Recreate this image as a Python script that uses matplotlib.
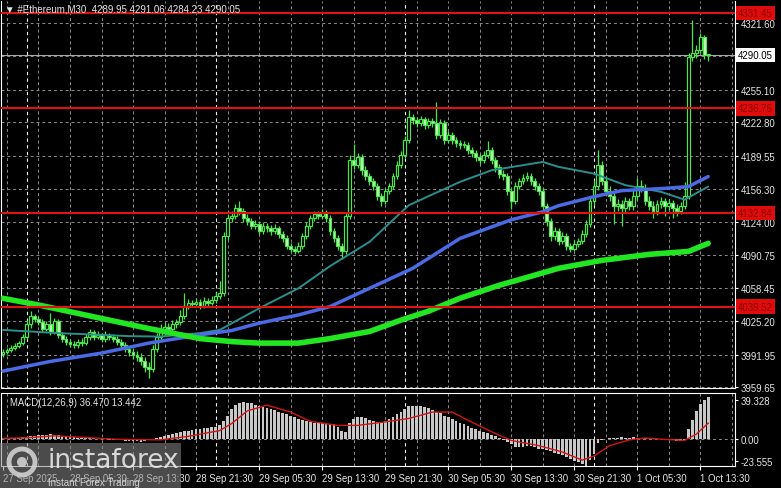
import matplotlib
matplotlib.use('Agg')
import matplotlib.pyplot as plt
import matplotlib.transforms as mtransforms
from matplotlib.patches import Rectangle, Circle
import numpy as np

plt.rcParams['font.family'] = ['Liberation Sans', 'DejaVu Sans']

# ---------------- data ----------------
opens = [3993, 3995, 3997, 3999, 4001, 4004, 4010, 4022, 4030, 4027,
         4024, 4018, 4022, 4015, 4025, 4012, 4008, 4005, 4003, 4002,
         4005, 4004, 4010, 4015, 4010, 4012, 4008, 4012, 4010, 4008,
         4005, 4002, 3998, 3995, 3992, 3990, 3986, 3980, 3978, 3998,
         4010, 4018, 4020, 4018, 4022, 4024, 4030, 4040, 4043, 4042,
         4044, 4040, 4045, 4043, 4046, 4050, 4053, 4110, 4128, 4130,
         4138, 4135, 4128, 4125, 4120, 4122, 4115, 4120, 4118, 4115,
         4118, 4112, 4108, 4100, 4097, 4095, 4100, 4110, 4120, 4128,
         4132, 4130, 4134, 4128, 4115, 4108, 4100, 4095, 4130, 4185,
         4180, 4188, 4175, 4170, 4165, 4160, 4150, 4145, 4155, 4160,
         4170, 4180, 4190, 4205, 4228, 4225, 4222, 4226, 4220, 4224,
         4222, 4210, 4222, 4205, 4210, 4205, 4202, 4200, 4200, 4195,
         4192, 4188, 4185, 4190, 4195, 4185, 4178, 4172, 4170, 4155,
         4145, 4160, 4165, 4168, 4170, 4165, 4160, 4155, 4140, 4125,
         4110, 4115, 4105, 4110, 4100, 4097, 4102, 4105, 4112, 4122,
         4145, 4160, 4180, 4165, 4155, 4150, 4140, 4142, 4138, 4145,
         4140, 4150, 4160, 4158, 4145, 4140, 4135, 4142, 4145, 4140,
         4143, 4138, 4135, 4140, 4150, 4288, 4292, 4295, 4308, 4289.95]
highs = [3998, 3999, 4002, 4004, 4006, 4013, 4026, 4035, 4032, 4030,
         4027, 4025, 4033, 4028, 4027, 4015, 4011, 4008, 4006, 4008,
         4009, 4013, 4018, 4017, 4016, 4014, 4016, 4014, 4013, 4011,
         4008, 4005, 4001, 3999, 3996, 3994, 3990, 3985, 4002, 4014,
         4022, 4024, 4023, 4026, 4027, 4036, 4053, 4047, 4046, 4048,
         4047, 4049, 4048, 4050, 4054, 4065, 4114, 4132, 4135, 4142,
         4145, 4138, 4132, 4128, 4126, 4125, 4124, 4123, 4121, 4122,
         4120, 4115, 4111, 4103, 4100, 4104, 4113, 4124, 4131, 4135,
         4135, 4137, 4136, 4131, 4118, 4111, 4103, 4133, 4190, 4201,
         4192, 4191, 4179, 4173, 4168, 4163, 4153, 4158, 4163, 4173,
         4184, 4194, 4209, 4235, 4231, 4228, 4229, 4228, 4227, 4227,
         4243, 4226, 4225, 4214, 4213, 4208, 4205, 4204, 4203, 4198,
         4195, 4191, 4194, 4204, 4198, 4188, 4181, 4175, 4173, 4158,
         4164, 4168, 4172, 4174, 4173, 4168, 4163, 4158, 4143, 4128,
         4119, 4118, 4114, 4113, 4103, 4106, 4108, 4116, 4126, 4150,
         4166, 4195, 4184, 4170, 4160, 4154, 4147, 4146, 4149, 4148,
         4156, 4168, 4166, 4162, 4150, 4145, 4146, 4149, 4148, 4147,
         4146, 4142, 4144, 4164, 4292, 4325, 4300, 4312, 4310, 4291.06]
lows = [3990, 3993, 3995, 3997, 3999, 4002, 4008, 4019, 4024, 4021,
        4015, 4016, 4012, 4013, 4009, 4005, 4002, 4000, 3999, 3999,
        4001, 4002, 4007, 4007, 4008, 4005, 4005, 4007, 4005, 4002,
        3999, 3995, 3991, 3988, 3986, 3982, 3975, 3969, 3975, 3995,
        4007, 4015, 4015, 4016, 4019, 4021, 4027, 4037, 4039, 4039,
        4037, 4038, 4040, 4041, 4043, 4047, 4050, 4106, 4124, 4127,
        4131, 4124, 4121, 4117, 4117, 4112, 4112, 4114, 4111, 4112,
        4108, 4104, 4097, 4094, 4092, 4093, 4097, 4107, 4117, 4125,
        4127, 4127, 4124, 4111, 4104, 4096, 4087, 4092, 4127, 4176,
        4177, 4171, 4166, 4161, 4156, 4146, 4140, 4142, 4152, 4157,
        4167, 4177, 4187, 4202, 4221, 4218, 4219, 4216, 4217, 4218,
        4206, 4207, 4201, 4202, 4201, 4198, 4196, 4197, 4191, 4188,
        4184, 4181, 4182, 4187, 4181, 4174, 4168, 4166, 4151, 4137,
        4142, 4157, 4162, 4165, 4161, 4156, 4151, 4136, 4120, 4105,
        4106, 4101, 4102, 4096, 4094, 4095, 4099, 4102, 4109, 4119,
        4141, 4156, 4161, 4150, 4145, 4122, 4135, 4120, 4134, 4136,
        4136, 4146, 4154, 4141, 4136, 4128, 4131, 4138, 4130, 4136,
        4128, 4130, 4132, 4137, 4147, 4284, 4287, 4292, 4286, 4284.23]
closes = [3995, 3997, 3999, 4001, 4004, 4010, 4022, 4030, 4027, 4024,
          4018, 4022, 4015, 4025, 4012, 4008, 4005, 4003, 4002, 4005,
          4004, 4010, 4015, 4010, 4012, 4008, 4012, 4010, 4008, 4005,
          4002, 3998, 3995, 3992, 3990, 3986, 3980, 3978, 3998, 4010,
          4018, 4020, 4018, 4022, 4024, 4030, 4040, 4043, 4042, 4044,
          4040, 4045, 4043, 4046, 4050, 4053, 4110, 4128, 4130, 4138,
          4135, 4128, 4125, 4120, 4122, 4115, 4120, 4118, 4115, 4118,
          4112, 4108, 4100, 4097, 4095, 4100, 4110, 4120, 4128, 4132,
          4130, 4134, 4128, 4115, 4108, 4100, 4095, 4130, 4185, 4180,
          4188, 4175, 4170, 4165, 4160, 4150, 4145, 4155, 4160, 4170,
          4180, 4190, 4205, 4228, 4225, 4222, 4226, 4220, 4224, 4222,
          4210, 4222, 4205, 4210, 4205, 4202, 4200, 4200, 4195, 4192,
          4188, 4185, 4190, 4195, 4185, 4178, 4172, 4170, 4155, 4145,
          4160, 4165, 4168, 4170, 4165, 4160, 4155, 4140, 4125, 4110,
          4115, 4105, 4110, 4100, 4097, 4102, 4105, 4112, 4122, 4145,
          4160, 4180, 4165, 4155, 4150, 4140, 4142, 4138, 4145, 4140,
          4150, 4160, 4158, 4145, 4140, 4135, 4142, 4145, 4140, 4143,
          4138, 4135, 4140, 4150, 4288, 4292, 4295, 4308, 4289.95, 4290.05]

# moving averages (bar index, value)
ma_slow_idx = [0, 9, 25, 37, 50, 58, 65, 75, 83, 93, 101, 108, 116, 126, 134, 141, 152, 164, 174, 179]
ma_slow_val = [4048, 4041.4, 4028, 4018, 4008, 4005, 4003.5, 4003.5, 4008, 4015, 4026.3, 4035.2,
               4048.1, 4061, 4069.9, 4077.8, 4085.7, 4091.7, 4094.6, 4102.6]
ma_mid_idx = [0, 12, 25, 37, 50, 58, 65, 75, 83, 93, 104, 116, 129, 137, 141, 150, 157, 167, 174, 179]
ma_mid_val = [3975.7, 3985.3, 3993.6, 4003.5, 4011.7, 4016, 4023.3, 4031.5, 4039.8, 4057.9, 4077.8,
              4107.5, 4126, 4134, 4140, 4149, 4155, 4157, 4159, 4169]
ma_fast_idx = [0, 7, 14, 25, 32, 40, 50, 55, 65, 75, 83, 93, 103, 116, 124, 137, 141, 150, 158, 167, 173, 179]
ma_fast_val = [4016.6, 4015, 4013.4, 4011.7, 4010.4, 4010, 4013.4, 4016.6, 4038, 4058, 4080, 4104,
               4140.5, 4163.7, 4175.2, 4183.5, 4178.6, 4171.9, 4160.4, 4153.8, 4146, 4159]

macd_hist = [0.5, 0.6, 0.8, 0.8, 1.0, 1.2, 1.5, 2.0, 2.5, 2.8,
             3.0, 3.6, 3.8, 3.5, 3.0, 2.5, 2.0, 1.5, 1.2, 1.0,
             0.8, 0.6, 0.5, 0.2, 0.0, -0.3, -0.5, -0.8, -1.0, -1.2,
             -1.5, -1.8, -2.0, -2.2, -2.4, -2.5, -2.3, -1.5, -0.5, 0.5,
             1.5, 2.5, 3.5, 4.0, 4.5, 5.5, 6.5, 7.0, 7.5, 8.0,
             8.5, 9.0, 9.5, 10.0, 10.5, 11.5, 15.0, 20.0, 26.0, 29.5,
             31.0, 31.5, 31.2, 30.5, 29.5, 28.5, 27.5, 26.5, 25.5, 24.5,
             23.5, 22.5, 21.5, 20.0, 18.5, 17.0, 16.0, 15.0, 14.5, 14.0,
             13.8, 13.5, 13.5, 13.0, 12.5, 10.0, 7.0, 6.0, 14.0, 17.0,
             19.0, 19.0, 18.0, 16.0, 15.0, 14.5, 14.0, 15.0, 17.0, 19.0,
             21.0, 23.0, 26.0, 28.0, 28.5, 28.5, 28.0, 27.5, 26.5, 25.0,
             23.0, 22.0, 20.0, 18.5, 17.0, 15.5, 14.0, 12.5, 11.0, 9.0,
             8.0, 7.0, 6.0, 5.0, 3.5, 2.5, 1.0, -1.0, -3.0, -5.0,
             -7.0, -7.5, -7.0, -6.5, -6.0, -7.0, -8.5, -9.0, -10.0, -11.0,
             -12.5, -13.5, -14.5, -16.0, -17.5, -19.0, -20.5, -21.5, -23.555, -18.0,
             -13.0, -4.0, -1.0, 0.0, 0.5, 0.8, 1.0, 1.2, 1.0, 1.0,
             1.2, 1.0, 0.8, 0.5, 0.3, 0.0, -0.3, -0.5, -0.8, -1.0,
             -1.5, -2.0, -2.2, -1.5, 8.0, 16.0, 24.0, 30.0, 33.5, 36.47]
signal_idx = [0, 6, 13, 29, 40, 47, 55, 58, 62, 67, 73, 78, 85, 90, 97, 103, 109, 114, 118, 124,
              129, 136, 142, 147, 150, 154, 159, 163, 168, 173, 176, 179]
signal_val = [0.3, 0.8, 2.5, -0.5, -1.0, 2.0, 7.0, 13.0, 24.0, 29.0, 23.0, 15.0, 11.5, 11.5, 14.5,
              17.5, 23.0, 23.0, 16.0, 6.0, -1.5, -6.0, -11.5, -18.5, -15.0, -6.0, -1.0, 0.6, -0.6,
              -1.5, 4.0, 13.442]

levels = [4331.45, 4236.76, 4132.84, 4039.52]
level_labels = ['4331.45', '4236.76', '4132.84', '4039.52']
current_price = 4290.05

price_ticks = [4321.60, 4288.35, 4255.10, 4222.80, 4189.55, 4156.30, 4124.00, 4090.75,
               4058.45, 4025.20, 3991.95, 3959.65]
price_tick_labels = ['4321.60', '', '4255.10', '4222.80', '4189.55', '4156.30', '4124.00',
                     '4090.75', '4058.45', '4025.20', '3991.95', '3959.65']
time_tick_idx = [0, 17, 33, 49, 65, 81, 97, 113, 129, 145, 161, 177]
time_tick_labels = ['27 Sep 2025', '28 Sep 05:30', '28 Sep 13:30', '28 Sep 21:30', '29 Sep 05:30',
                    '29 Sep 13:30', '29 Sep 21:30', '30 Sep 05:30', '30 Sep 13:30', '30 Sep 21:30',
                    '1 Oct 05:30', '1 Oct 13:30']
grid_idx = list(range(1, 186, 8))
day_sep_idx = [6, 54, 102, 150]
macd_ticks = [33.6, 0.0, -19.1]
macd_tick_labels = ['39.328', '0.00', '-23.555']

# ---------------- styling ----------------
W, H = 781, 489
BG = 'black'
TXT = '#e6e6e6'
CANDLE = '#46ea46'
BEAR_FILL = '#c8f5c2'
GRID = '#8c8c8c'

fig = plt.figure(figsize=(W / 100, H / 100), dpi=100, facecolor=BG)


def fx(px):
    return px / W


def fy(py):
    return 1 - py / H


ax = fig.add_axes([fx(1), fy(389), fx(735) - fx(1), fy(2) - fy(389)], facecolor=BG)
axm = fig.add_axes([fx(1), fy(467), fx(735) - fx(1), fy(394) - fy(467)], facecolor=BG)

xlim = (-0.51, 185.8)
for a in (ax, axm):
    a.set_xlim(*xlim)
    for s in a.spines.values():
        s.set_color('white')
        s.set_linewidth(0.8)
    a.spines['top'].set_visible(False)
    for gi in grid_idx:
        if gi in day_sep_idx:
            continue
        a.axvline(gi, color=GRID, lw=0.7, ls=(0, (3, 3)), zorder=0.5)
    for di in day_sep_idx:
        a.axvline(di, color='#f0f0f0', lw=0.8, ls=(0, (3, 3)), zorder=0.6)
axm.spines['top'].set_visible(True)

ax.set_ylim(3958.9, 4343.4)

# horizontal grid
for pt in price_ticks:
    ax.axhline(pt, color=GRID, lw=0.7, ls=(0, (3, 3)), zorder=0.5)

# candles
idx = np.arange(len(closes))
o = np.array(opens, float)
c = np.array(closes, float)
h = np.array(highs, float)
l = np.array(lows, float)
up = c >= o
ax.vlines(idx, l, h, color=CANDLE, lw=0.9, zorder=3)
body_w = 0.72
hgt = np.maximum(np.abs(c - o), 1.0)
bot = np.minimum(o, c)
ax.bar(idx[up], hgt[up], bottom=bot[up], width=body_w, color='black', edgecolor=CANDLE,
       linewidth=0.85, zorder=4)
ax.bar(idx[~up], hgt[~up], bottom=bot[~up], width=body_w, color=BEAR_FILL, edgecolor=CANDLE,
       linewidth=0.85, zorder=4)

# moving averages
ax.plot(ma_fast_idx, ma_fast_val, color='#2a8f8f', lw=1.4, zorder=5, solid_capstyle='round')
ax.plot(ma_mid_idx, ma_mid_val, color='#4a6ae6', lw=2.5, zorder=5, solid_capstyle='round')
ax.plot(ma_slow_idx, ma_slow_val, color='#22e622', lw=4.0, zorder=5, solid_capstyle='round')

# levels
for lv in levels:
    ax.axhline(lv, color='#e01212', lw=1.5, zorder=6)
ax.axhline(current_price, color='#a8a8a8', lw=0.8, zorder=2)

# right price axis
ax.yaxis.tick_right()
ax.set_yticks(price_ticks)
ax.set_yticklabels(price_tick_labels)
ax.tick_params(axis='y', colors='white', labelcolor=TXT, length=2.5, width=0.8, pad=1.5,
               labelsize=6.9)
ax.set_xticks([])

blend = mtransforms.blended_transform_factory(ax.transAxes, ax.transData)
for lv, lab in zip(levels, level_labels):
    ax.text(1.004, lv, lab, transform=blend, ha='left', va='center', fontsize=6.9,
            color='#8a0000', clip_on=False, zorder=10,
            bbox=dict(boxstyle='square,pad=0.25', fc='#e00c0c', ec='none'))
ax.text(1.004, current_price, '4290.05', transform=blend, ha='left', va='center', fontsize=6.9,
        color='black', clip_on=False, zorder=10,
        bbox=dict(boxstyle='square,pad=0.22', fc='white', ec='none'))

# header
fig.text(fx(5), fy(9), '\u25bc #Ethereum,M30  4289.95 4291.06 4284.23 4290.05', color=TXT,
         fontsize=7, va='center', ha='left')

# MACD panel
axm.set_ylim(-23.6, 39.5)
axm.bar(np.arange(len(macd_hist)), macd_hist, width=0.7, color='#c8c8c8', zorder=3)
axm.axhline(0, color=GRID, lw=0.7, ls=(0, (3, 3)), zorder=2)
axm.plot(signal_idx, signal_val, color='#d41414', lw=1.0, zorder=4)
axm.yaxis.tick_right()
axm.set_yticks(macd_ticks)
axm.set_yticklabels(macd_tick_labels)
axm.tick_params(axis='y', colors='white', labelcolor=TXT, length=2.5, width=0.8, pad=1.5,
                labelsize=6.9)
axm.set_xticks(time_tick_idx)
axm.set_xticklabels(time_tick_labels, ha='left')
axm.tick_params(axis='x', colors='white', labelcolor=TXT, length=3, width=0.8, pad=2,
                labelsize=6.9)
axm.text(0.012, 0.88, 'MACD(12,26,9) 36.470 13.442', transform=axm.transAxes, color=TXT,
         fontsize=6.9, va='center', ha='left', zorder=10)

# watermark
wm = fig.add_axes([0, 0, 1, 1], facecolor='none')
wm.set_xlim(0, W)
wm.set_ylim(H, 0)
wm.axis('off')
wm.add_patch(Rectangle((0, 444), 181, 45, fc='#8a8a8a', ec='none', alpha=0.55))
wm.add_patch(Circle((22, 463), 13, fc='none', ec='#d8d8d8', lw=3.5, alpha=0.85))
wm.add_patch(Circle((22, 463), 5, fc='#d8d8d8', ec='none', alpha=0.85))
wm.text(47, 461, 'instaforex', color='#e8e8e8', fontsize=19, va='center', ha='left',
        family=['DejaVu Sans'], alpha=0.9)
wm.text(48, 483, 'Instant Forex Trading', color='#e0e0e0', fontsize=7, va='center', ha='left',
        alpha=0.9)

fig.savefig('out.png', dpi=100, facecolor=BG)
